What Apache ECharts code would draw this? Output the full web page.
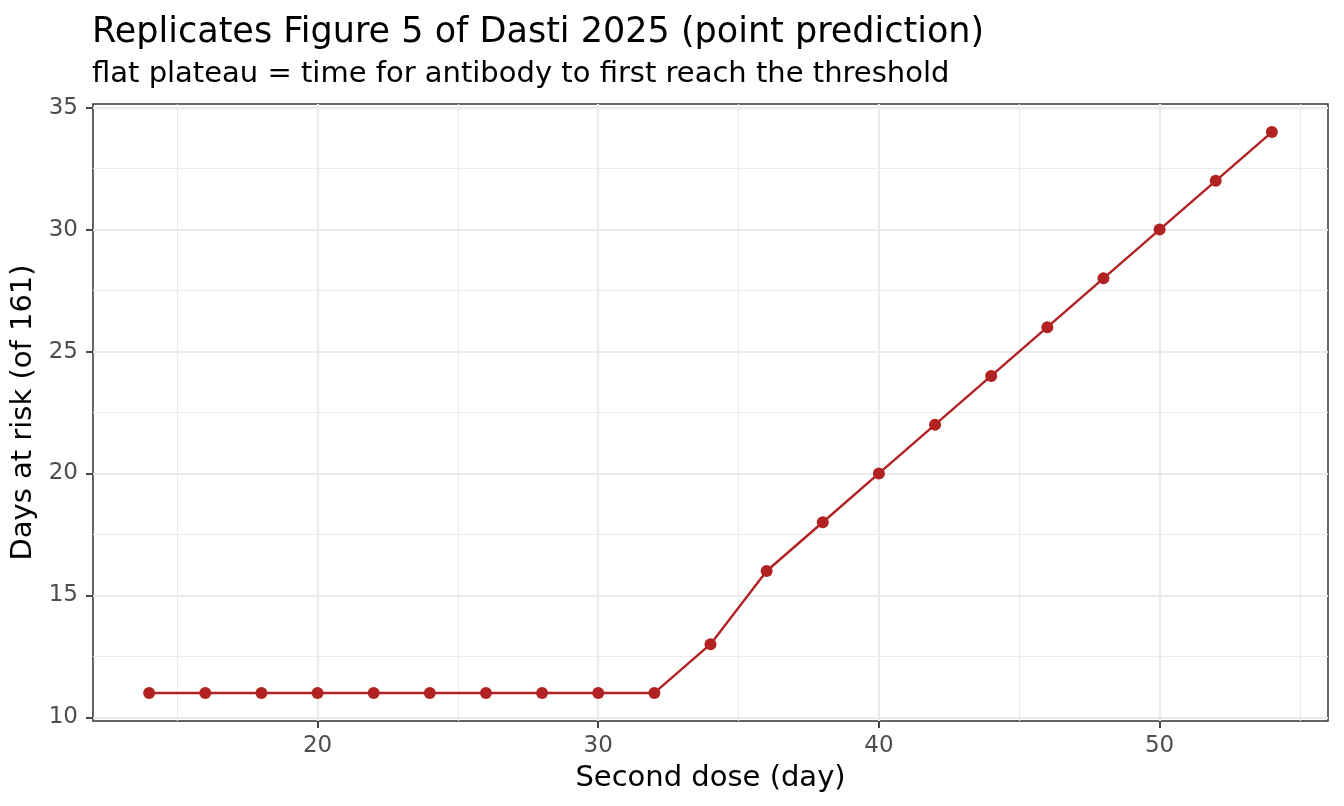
<!DOCTYPE html>
<html><head><meta charset="utf-8">
<script src="https://cdn.jsdelivr.net/npm/echarts@6/dist/echarts.min.js"></script>
<style>html,body{margin:0;padding:0;background:#fff}#c{width:1344px;height:806px}</style>
</head><body><div id="c"></div>
<script>
const secondDose = [14,16,18,20,22,24,26,28,30,32,34,36,38,40,42,44,46,48,50,52,54];
const daysAtRisk = [11,11,11,11,11,11,11,11,11,11,13,16,18,20,22,24,26,28,30,32,34];
const xTicks = [20,30,40,50];
const xMinor = [15,25,35,45,55];
const yTicks = [10,15,20,25,30,35];
const yMinor = [12.5,17.5,22.5,27.5,32.5];

const FONT = 'DejaVu Sans';
const chart = echarts.init(document.getElementById('c'), null, {renderer:'canvas'});

const gridLines = [];
xMinor.forEach(v => gridLines.push({xAxis:v, lineStyle:{color:'#EBEBEB', width:1.1, type:'solid'}}));
yMinor.forEach(v => gridLines.push({yAxis:v, lineStyle:{color:'#EBEBEB', width:1.1, type:'solid'}}));
xTicks.forEach(v => gridLines.push({xAxis:v, lineStyle:{color:'#EBEBEB', width:2.2, type:'solid'}}));
yTicks.forEach(v => gridLines.push({yAxis:v, lineStyle:{color:'#EBEBEB', width:2.2, type:'solid'}}));

chart.setOption({
  animation:false,
  backgroundColor:'#fff',
  textStyle:{fontFamily:FONT},
  title:[
    {text:'Replicates Figure 5 of Dasti 2025 (point prediction)', left:92, top:15, padding:0,
     textStyle:{fontFamily:FONT, fontSize:35, fontWeight:'normal', color:'#000'}},
    {text:'flat plateau = time for antibody to first reach the threshold', left:92, top:60, padding:0,
     textStyle:{fontFamily:FONT, fontSize:29, fontWeight:'normal', color:'#000'}}
  ],
  grid:{left:93, right:16, top:104, bottom:85, show:true, borderColor:'#333333', borderWidth:1.5, backgroundColor:'#fff'},
  xAxis:{type:'value', min:12, max:56,
    name:'Second dose (day)', nameLocation:'middle', nameGap:43,
    nameTextStyle:{fontFamily:FONT, fontSize:29, color:'#000'},
    axisLine:{show:false},
    axisTick:{show:true, length:7, customValues:xTicks, lineStyle:{color:'#333333', width:1.8}},
    axisLabel:{customValues:xTicks, fontFamily:FONT, fontSize:23, color:'#4D4D4D', margin:14},
    splitLine:{show:false}},
  yAxis:{type:'value', min:9.85, max:35.15,
    name:'Days at risk (of 161)', nameLocation:'middle', nameGap:47,
    nameTextStyle:{fontFamily:FONT, fontSize:29, color:'#000'},
    axisLine:{show:false},
    axisTick:{show:true, length:7, customValues:yTicks, lineStyle:{color:'#333333', width:1.8}},
    axisLabel:{customValues:yTicks, fontFamily:FONT, fontSize:23, color:'#4D4D4D', margin:15},
    splitLine:{show:false}},
  series:[
    {type:'line', data:[], z:1, silent:true,
     markLine:{silent:true, symbol:['none','none'], label:{show:false}, animation:false, data:gridLines}},
    {type:'line', z:5, data:secondDose.map((x,i)=>[x,daysAtRisk[i]]),
     symbol:'circle', symbolSize:12, showSymbol:true,
     itemStyle:{color:'#B22222'}, lineStyle:{color:'#B22222', width:2.4}}
  ]
});
</script></body></html>
